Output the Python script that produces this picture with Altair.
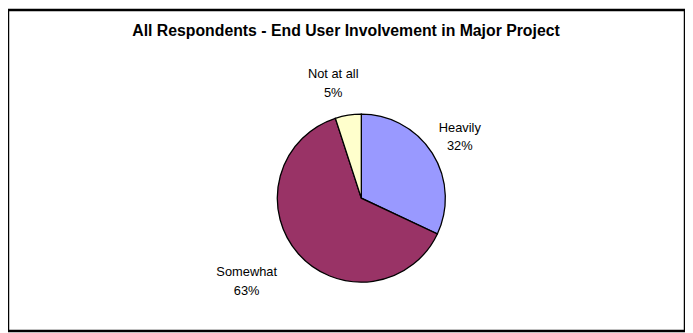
import altair as alt
import pandas as pd

categories = ["Heavily", "Somewhat", "Not at all"]
values = [32, 63, 5]
colors = ["#9999FF", "#993366", "#FFFFCC"]
title_text = "All Respondents - End User Involvement in Major Project"

df = pd.DataFrame({"category": categories, "value": values, "order": [0, 1, 2]})

CX, CY, R = 357.5, 190.5, 85

pie = alt.Chart(df).mark_arc(stroke="black", strokeWidth=1.3, outerRadius=R).encode(
    theta=alt.Theta("value:Q", stack=True, scale=alt.Scale(domain=[0, 100])),
    order=alt.Order("order:Q"),
    x=alt.value(CX),
    y=alt.value(CY),
    color=alt.Color("category:N", scale=alt.Scale(domain=categories, range=colors), legend=None),
)

label_base = alt.Chart(df).transform_window(
    cum="sum(value)", sort=[alt.SortField("order")], frame=[None, 0]
).transform_calculate(
    mid="datum.cum - datum.value / 2",
    label="datum.category + '\\n' + datum.value + '%'",
)

label_offsets = {"Heavily": (0, -8), "Somewhat": (-11, -18), "Not at all": (-10, -9)}
label_radius = {"Heavily": 118, "Somewhat": 140, "Not at all": 118}
layers = [pie]
for cat in categories:
    dx, dy = label_offsets[cat]
    layers.append(
        label_base.transform_filter(alt.datum.category == cat).mark_text(
            radius=label_radius[cat], dx=dx, dy=dy, fontSize=13, font="Liberation Sans",
            lineBreak="\n", lineHeight=19, align="center", baseline="middle", color="black",
        ).encode(
            theta=alt.Theta("mid:Q", stack=None, scale=alt.Scale(domain=[0, 100])),
            x=alt.value(CX),
            y=alt.value(CY),
            text="label:N",
        )
    )

title = alt.Chart(pd.DataFrame({"t": [title_text]})).mark_text(
    fontSize=16, fontWeight="bold", font="Liberation Sans", color="black",
    align="center", baseline="middle",
).encode(x=alt.value(342), y=alt.value(21), text="t:N")

chart = alt.layer(*layers, title).properties(
    width=685, height=325,
    autosize=alt.AutoSizeParams(type="fit", contains="padding"),
    padding=0,
).configure_view(stroke="black", strokeWidth=2.5)

chart.save("out.html", embed_options={"renderer": "svg", "actions": False})
